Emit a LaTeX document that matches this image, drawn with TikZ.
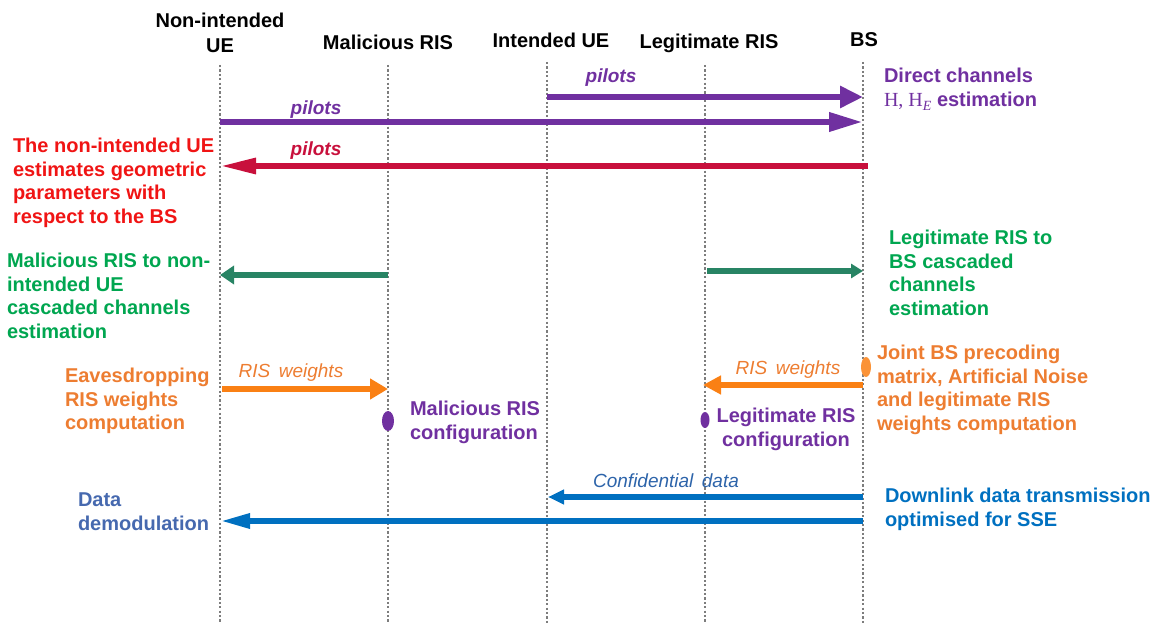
\documentclass[tikz,border=0pt]{standalone}
\usepackage{fontspec}
\setmainfont{Liberation Sans}
\newfontfamily\serifH{Liberation Serif}
\usetikzlibrary{arrows.meta,shapes.geometric}

\definecolor{ppl}{RGB}{112,48,160}
\definecolor{crim}{RGB}{200,16,60}
\definecolor{redtxt}{RGB}{240,20,20}
\definecolor{grntxt}{RGB}{0,166,80}
\definecolor{grnarr}{RGB}{40,132,100}
\definecolor{orgtxt}{RGB}{237,125,49}
\definecolor{orgarr}{RGB}{250,128,20}
\definecolor{blu}{RGB}{0,112,192}
\definecolor{blutxt}{RGB}{70,105,175}
\definecolor{bluit}{RGB}{45,100,170}
\definecolor{lifegray}{RGB}{125,125,125}

\newcommand{\mlines}[1]{\begin{tabular}[t]{@{}l@{}}#1\end{tabular}}
\newcommand{\clines}[1]{\begin{tabular}[t]{@{}c@{}}#1\end{tabular}}

\begin{document}
\begin{tikzpicture}[x=0.5pt,y=-0.5pt,
  every node/.style={inner sep=0pt,outer sep=0pt},
  bigfont/.style={font=\fontsize{10}{11.75}\selectfont\bfseries},
  head/.style={bigfont,anchor=base,text=black},
  note/.style={bigfont,anchor=base west},
  pilotlbl/.style={font=\fontsize{9.5}{11}\selectfont\bfseries\itshape,anchor=base},
  itlbl/.style={font=\fontsize{9.5}{11}\selectfont\itshape,anchor=base},
  lifeline/.style={draw=lifegray,line width=1.1pt,dash pattern=on 1.1pt off 1.1pt},
  msg/.style={line width=3.3pt},
  dot/.style={ellipse,draw=none,minimum width=#1},
]
\useasboundingbox (0,0) rectangle (1156,624);

% participants
\node[head] (hNU) at (220,28) {\clines{Non-intended\\[0.75pt]UE}};
\node[head] (hMR) at (388,50) {Malicious RIS};
\node[head] (hIU) at (551,48) {Intended UE};
\node[head] (hLR) at (709,49) {Legitimate RIS};
\node[head] (hBS) at (864,47) {BS};

% lifelines
\foreach \n/\x/\t in {nu/220/65, mr/388/65, iu/547/62, lr/705/65, bs/863/62}{
  \coordinate (\n top) at (\x,\t);
  \coordinate (\n bot) at (\x,624);
  \draw[lifeline] (\n top) -- (\n bot);
}

% pilots: intended UE -> BS
\coordinate (p1s) at (547,97);  \coordinate (p1e) at (863,97);
\draw[msg,ppl,-{Triangle[length=11.5pt,width=10.5pt]}] (p1s) -- (p1e);
\node[pilotlbl,text=ppl] (p1l) at (611,83) {pilots};

% pilots: non-intended UE -> BS
\coordinate (p2s) at (220,122); \coordinate (p2e) at (863,122);
\draw[msg,ppl,-{Triangle[length=17pt,width=9pt]}] (p2s) -- (p2e);
\node[pilotlbl,text=ppl] (p2l) at (316,115) {pilots};

% pilots: BS -> non-intended UE
\coordinate (p3s) at (868,166); \coordinate (p3e) at (220,166);
\draw[msg,line width=3pt,crim,-{Triangle[length=18pt,width=7.5pt]}] (p3s) -- (p3e);
\node[pilotlbl,text=crim] (p3l) at (316,156) {pilots};

\node[note,text=ppl] (tDir) at (884,83)
  {\mlines{Direct channels\\{\serifH\mdseries H, H\raisebox{-0.4ex}{\fontsize{7}{7}\selectfont\itshape E}} estimation}};

\node[note,text=redtxt] (tGeo) at (13,153)
  {\mlines{The non-intended UE\\estimates geometric\\parameters with\\respect to the BS}};

% cascaded channel estimation
\coordinate (c1s) at (388,275); \coordinate (c1e) at (220,275);
\draw[msg,grnarr,-{Triangle[length=7pt,width=9pt]}] (c1s) -- (c1e);
\coordinate (c2s) at (707,271); \coordinate (c2e) at (863,271);
\draw[msg,grnarr,-{Triangle[length=6pt,width=7pt]}] (c2s) -- (c2e);

\node[note,text=grntxt] (tMalC) at (7,268)
  {\mlines{Malicious RIS to non-\\intended UE\\cascaded channels\\estimation}};
\node[note,text=grntxt] (tLegC) at (889,245)
  {\mlines{Legitimate RIS to\\BS cascaded\\channels\\estimation}};

% RIS weights
\coordinate (w1s) at (222,389); \coordinate (w1e) at (388,389);
\draw[msg,orgarr,-{Triangle[length=9pt,width=10pt]}] (w1s) -- (w1e);
\node[itlbl,text=orgtxt] (w1l) at (291,378) {RIS\, weights};

\coordinate (w2s) at (863,385); \coordinate (w2e) at (703,385);
\draw[msg,orgarr,-{Triangle[length=9pt,width=9pt]}] (w2s) -- (w2e);
\node[itlbl,text=orgtxt] (w2l) at (788,375) {RIS\, weights};

\node[dot=6pt,minimum height=10pt,fill=ppl] (dMR) at (388,421) {};
\node[dot=4.5pt,minimum height=8pt,fill=ppl] (dLR) at (705,420) {};
\node[dot=5pt,minimum height=10pt,fill=orgarr!85!white] (dBS) at (866,367) {};

\node[note,text=orgtxt] (tEav) at (65,383)
  {\mlines{Eavesdropping\\RIS weights\\computation}};
\node[note,text=ppl] (tMalCfg) at (410,416)
  {\mlines{Malicious RIS\\configuration}};
\node[bigfont,anchor=base,text=ppl] (tLegCfg) at (786,423)
  {\clines{Legitimate RIS\\configuration}};
\node[note,text=orgtxt] (tJoint) at (877,360)
  {\mlines{Joint BS precoding\\matrix, Artificial Noise\\and legitimate RIS\\weights computation}};

% downlink data
\coordinate (d1s) at (863,497); \coordinate (d1e) at (548,497);
\draw[msg,line width=3pt,blu,-{Triangle[length=8pt,width=7pt]}] (d1s) -- (d1e);
\node[itlbl,text=bluit] (d1l) at (666,488) {Confidential\, data};

\coordinate (d2s) at (863,521); \coordinate (d2e) at (220,521);
\draw[msg,line width=3pt,blu,-{Triangle[length=15pt,width=7pt]}] (d2s) -- (d2e);

\node[note,text=blu] (tDown) at (885,503)
  {\mlines{Downlink data transmission\\optimised for SSE}};
\node[note,text=blutxt] (tDemod) at (78,507)
  {\mlines{Data\\demodulation}};
\end{tikzpicture}
\end{document}
